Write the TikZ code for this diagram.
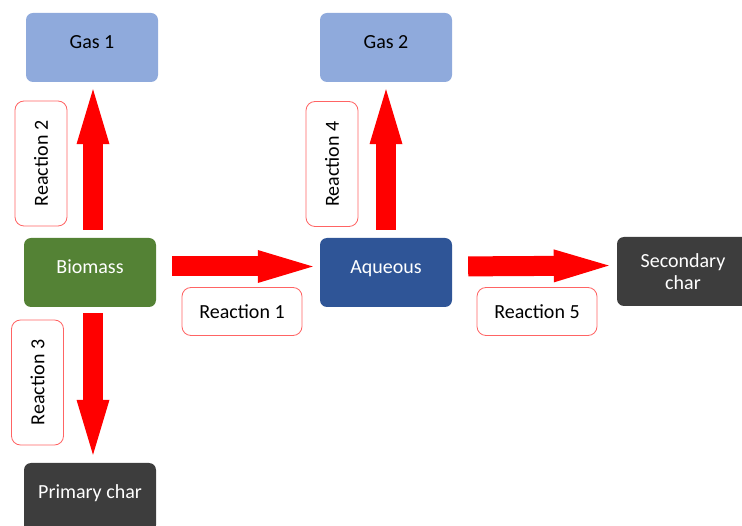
\documentclass[tikz,border=0pt]{standalone}
\usepackage{fontspec}
\setmainfont{Carlito}
\usepackage{xcolor}
\definecolor{cGas}{HTML}{8FAADC}
\definecolor{cBio}{HTML}{548235}
\definecolor{cAq}{HTML}{2F5597}
\definecolor{cChar}{HTML}{3D3D3D}
\definecolor{cArrow}{HTML}{FF0000}
\definecolor{cLabel}{HTML}{FF6464}
\usetikzlibrary{positioning,arrows.meta}
\tikzset{
  node-box/.style={rounded corners=7pt,minimum width=132pt,minimum height=69pt,
    align=center,inner sep=2pt,font=\fontsize{20}{22}\selectfont},
  node-one/.style={text height=13pt,text depth=11.5pt},
  node-gas/.style={node-box,node-one,fill=cGas,text=black},
  node-bio/.style={node-box,node-one,fill=cBio,text=white},
  node-aq/.style={node-box,node-one,fill=cAq,text=white},
  node-char/.style={node-box,fill=cChar,text=white},
  node-react/.style={draw=cLabel,line width=0.8pt,fill=white,rounded corners=9pt,
    minimum width=120pt,minimum height=48pt,inner sep=2pt,
    font=\fontsize{20}{22}\selectfont},
  node-react-v/.style={node-react,minimum width=125pt,minimum height=52pt,rotate=90},
  arrow-block/.style={line width=20pt,draw=cArrow,
    -{Triangle[width=33pt,length=55pt,line width=0pt]}},
}
\begin{document}
\begin{tikzpicture}[x=1pt,y=-1pt]
  \useasboundingbox (0,0) rectangle (742,526);
  \node[node-gas]  (gas1) at (92,47.5)   {Gas 1};
  \node[node-gas]  (gas2) at (386,47.5)  {Gas 2};
  \node[node-bio]  (bio)  at (90,272.5)  {Biomass};
  \node[node-aq]   (aq)   at (386,272.5) {Aqueous};
  \node[node-char] (sec)  at (683,271.5) {Secondary\\char};
  \node[node-char,node-one] (prim) at (90,497.5) {Primary char};
  % reaction labels
  \node[node-react]   (r1) at (242,311.5) {Reaction 1};
  \node[node-react]   (r5) at (537,311.5) {Reaction 5};
  \node[node-react-v] (r2) at (41,163.5)  {Reaction 2};
  \node[node-react-v] (r4) at (332,164)   {Reaction 4};
  \node[node-react-v] (r3) at (37.5,382.5) {Reaction 3};
  % block arrows
  \draw[arrow-block,shorten <=8pt,shorten >=7pt] ([xshift=3pt]bio.north) -- ([xshift=1pt]gas1.south);
  \draw[arrow-block,shorten <=8pt,shorten >=7pt] (aq.north) -- (gas2.south);
  \draw[arrow-block,shorten <=6pt,shorten >=8pt] ([xshift=3pt]bio.south) -- ([xshift=3pt]prim.north);
  \draw[arrow-block,shorten <=16pt,shorten >=7pt] ([yshift=6pt]bio.east) -- ([yshift=6pt]aq.west);
  \draw[arrow-block,shorten <=16pt,shorten >=8pt] ([yshift=6pt]aq.east) -- ([yshift=6pt]sec.west);
\end{tikzpicture}
\end{document}
